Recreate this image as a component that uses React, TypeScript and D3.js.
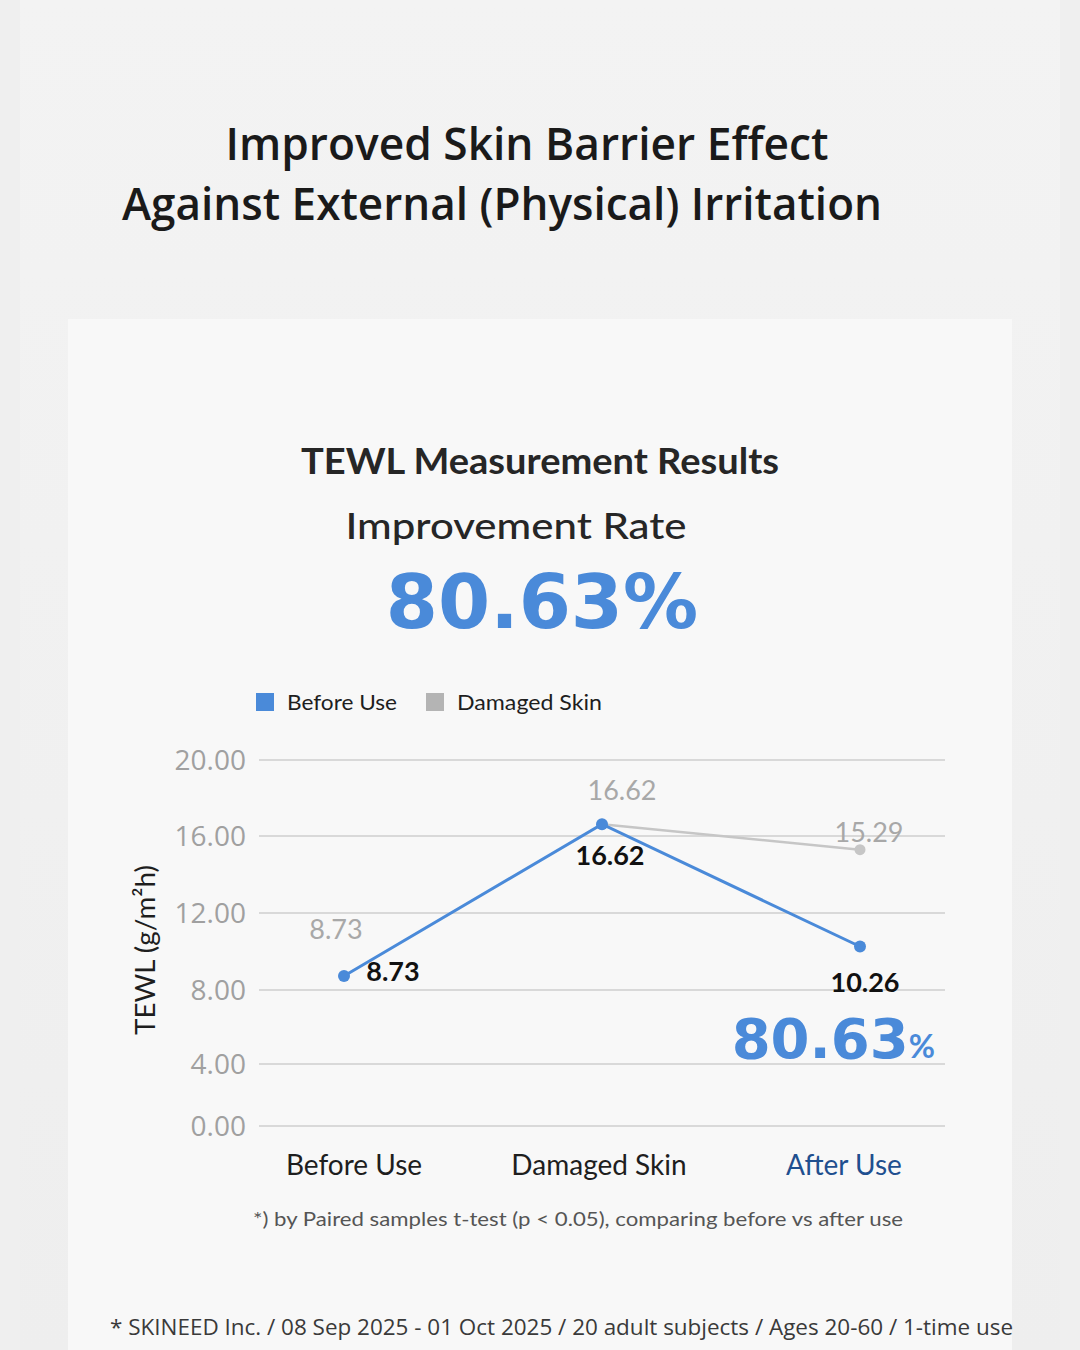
import React from "react";
import * as d3 from "d3";

const categories = ["Before Use", "Damaged Skin", "After Use"];
const beforeSeries = [8.73, 16.62, 10.26];
const damagedSeries = [8.73, 16.62, 15.29];
const yTicks = [0, 4, 8, 12, 16, 20];
const legendItems = ["Before Use", "Damaged Skin"];
const improvementRate = "80.63";

const W = 1080;
const H = 1350;
const BLUE = "#4a8ad9";
const GRAY = "#c6c6c6";
const FONT = "Lato, 'Noto Sans', sans-serif";
const TITLE_FONT = "'Open Sans', 'Noto Sans', sans-serif";
const NUM_FONT = "'DejaVu Sans', Lato, sans-serif";

export default function App() {
  const x = d3.scalePoint<string>().domain(categories).range([344, 860]).padding(0);
  const xLabel = d3.scalePoint<string>().domain(categories).range([354, 844]);
  // piecewise y scale matching the reference's tick spacing
  const y = d3.scaleLinear().domain(yTicks).range([1126, 1064, 990, 913, 836, 760]);

  const line = d3
    .line<number>()
    .x((_, i) => x(categories[i]) as number)
    .y((d) => y(d));

  const grayPts = damagedSeries.map((v, i) => ({ v, i })).slice(1);
  const grayLine = d3
    .line<{ v: number; i: number }>()
    .x((d) => x(categories[d.i]) as number)
    .y((d) => y(d.v));

  const grayLabelOffsets = [
    [-8, -37],
    [20, -24],
    [9, -8],
  ];
  const blueLabelOffsets = [
    [49, 5],
    [8, 41],
    [5, 46],
  ];

  return (
    <svg
      width={W}
      height={H}
      viewBox={`0 0 ${W} ${H}`}
      style={{ position: "absolute", left: 0, top: 0, display: "block" }}
    >
      <defs>
        <linearGradient id="bg" x1="0" y1="0" x2="0" y2="1">
          <stop offset="0" stopColor="#f3f3f3" />
          <stop offset="1" stopColor="#eeeeee" />
        </linearGradient>
      </defs>
      <rect x={0} y={0} width={W} height={H} fill="#efefef" />
      <rect x={20} y={0} width={1040} height={H} fill="url(#bg)" />
      <rect x={68} y={319} width={944} height={H - 319} fill="#f8f8f8" />

      {/* Page title */}
      <text
        x={527}
        y={160}
        textAnchor="middle"
        fontFamily={TITLE_FONT}
        fontWeight={600}
        fontSize={46}
        fill="#1a1a1a"
        textLength={603}
        lengthAdjust="spacingAndGlyphs"
      >
        Improved Skin Barrier Effect
      </text>
      <text
        x={502}
        y={220}
        textAnchor="middle"
        fontFamily={TITLE_FONT}
        fontWeight={600}
        fontSize={46}
        fill="#1a1a1a"
        textLength={760}
        lengthAdjust="spacingAndGlyphs"
      >
        Against External (Physical) Irritation
      </text>

      {/* Chart headings */}
      <text
        x={540}
        y={474}
        textAnchor="middle"
        fontFamily={FONT}
        fontWeight={700}
        fontSize={37}
        fill="#262626"
        textLength={478}
        lengthAdjust="spacingAndGlyphs"
      >
        TEWL Measurement Results
      </text>
      <text
        x={516}
        y={539}
        textAnchor="middle"
        fontFamily={FONT}
        fontWeight={500}
        fontSize={37}
        fill="#262626"
        textLength={341}
        lengthAdjust="spacingAndGlyphs"
      >
        Improvement Rate
      </text>
      <text
        x={542}
        y={628}
        textAnchor="middle"
        fontFamily={NUM_FONT}
        fontWeight={700}
        fontSize={75}
        fill={BLUE}
      >
        {improvementRate}%
      </text>

      {/* Legend */}
      {legendItems.map((name, i) => {
        const lx = i === 0 ? 256 : 426;
        return (
          <g key={name}>
            <rect x={lx} y={693} width={18} height={18} fill={i === 0 ? BLUE : "#b4b4b4"} />
            <text
              x={lx + 31}
              y={710}
              fontFamily={FONT}
              fontSize={22}
              fill="#1e1e1e"
              textLength={i === 0 ? 110 : 145}
              lengthAdjust="spacingAndGlyphs"
            >
              {name}
            </text>
          </g>
        );
      })}

      {/* Grid + y ticks */}
      {yTicks.map((t) => (
        <g key={t}>
          <line x1={259} x2={945} y1={y(t)} y2={y(t)} stroke="#cfcfcf" strokeWidth={1.5} />
          <text
            x={246}
            y={y(t) + 10}
            textAnchor="end"
            fontFamily={TITLE_FONT}
            fontSize={28}
            fill="#a0a0a0"
          >
            {t.toFixed(2)}
          </text>
        </g>
      ))}

      {/* Y axis title */}
      <text
        transform={`translate(155, 950) rotate(-90)`}
        textAnchor="middle"
        fontFamily={FONT}
        fontSize={27}
        fill="#1e1e1e"
        textLength={170}
        lengthAdjust="spacingAndGlyphs"
      >
        TEWL (g/m²h)
      </text>

      {/* Damaged skin series (gray) */}
      <path d={grayLine(grayPts) as string} fill="none" stroke={GRAY} strokeWidth={2.5} />
      {grayPts.map((d) => (
        <circle key={d.i} cx={x(categories[d.i]) as number} cy={y(d.v)} r={5.5} fill={GRAY} />
      ))}
      {damagedSeries.map((v, i) => (
        <text
          key={`gl${i}`}
          x={(x(categories[i]) as number) + grayLabelOffsets[i][0]}
          y={y(v) + grayLabelOffsets[i][1]}
          textAnchor="middle"
          fontFamily={FONT}
          fontSize={27}
          fill="#a8a8a8"
        >
          {v.toFixed(2)}
        </text>
      ))}

      {/* Before use series (blue) */}
      <path d={line(beforeSeries) as string} fill="none" stroke={BLUE} strokeWidth={3} />
      {beforeSeries.map((v, i) => (
        <circle key={i} cx={x(categories[i]) as number} cy={y(v)} r={6} fill={BLUE} />
      ))}
      {beforeSeries.map((v, i) => (
        <text
          key={`bl${i}`}
          x={(x(categories[i]) as number) + blueLabelOffsets[i][0]}
          y={y(v) + blueLabelOffsets[i][1]}
          textAnchor="middle"
          fontFamily={FONT}
          fontWeight={700}
          fontSize={27}
          fill="#111"
        >
          {v.toFixed(2)}
        </text>
      ))}

      {/* In-chart improvement rate */}
      <text x={935} y={1058} textAnchor="end" fontFamily={NUM_FONT} fontWeight={700} fill={BLUE}>
        <tspan fontSize={56}>{improvementRate}</tspan>
        <tspan fontSize={32} fontFamily={FONT} fontWeight={700}>%</tspan>
      </text>

      {/* Category labels */}
      {categories.map((c, i) => (
        <text
          key={c}
          x={xLabel(c) as number}
          y={1175}
          textAnchor="middle"
          fontFamily={FONT}
          fontSize={28}
          fill={i === 2 ? "#1f4f8f" : "#1e1e1e"}
        >
          {c}
        </text>
      ))}

      {/* Footnotes */}
      <text
        x={578}
        y={1226}
        textAnchor="middle"
        fontFamily={FONT}
        fontSize={19}
        fill="#555"
        textLength={650}
        lengthAdjust="spacingAndGlyphs"
      >
        *) by Paired samples t-test (p &lt; 0.05), comparing before vs after use
      </text>
      <text
        x={110}
        y={1335}
        fontFamily={TITLE_FONT}
        fontSize={22}
        fill="#3a3a3a"
        textLength={903}
        lengthAdjust="spacingAndGlyphs"
      >
        * SKINEED Inc. / 08 Sep 2025 - 01 Oct 2025 / 20 adult subjects / Ages 20-60 / 1-time use
      </text>
    </svg>
  );
}
